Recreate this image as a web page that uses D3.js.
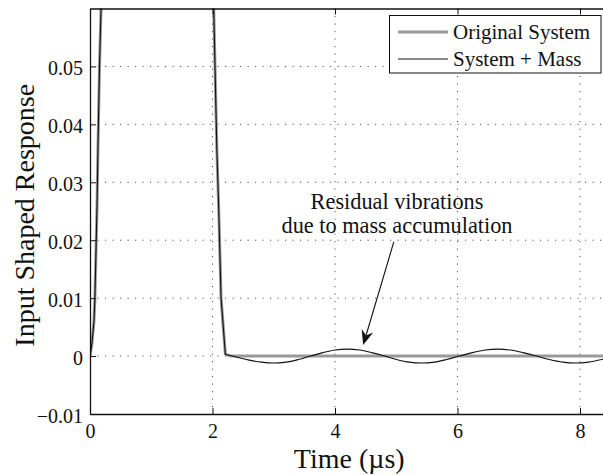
<!DOCTYPE html>
<html>
<head>
<meta charset="utf-8">
<script src="https://cdn.jsdelivr.net/npm/d3@7"></script>
<style>
  html, body { margin: 0; padding: 0; background: #fff; }
  svg { display: block; }
  text { font-family: "Liberation Serif", "Times New Roman", serif; fill: #111; }
</style>
</head>
<body>
<svg id="chart" width="603" height="475"></svg>
<script>
// Shared input-shaped pulse (both systems follow it up to t ≈ 2.21 µs)
const pulseTime  = [0, 0.03, 0.065, 0.08, 0.115, 0.13, 0.155, 0.18, 0.23, 1.97, 2.02, 2.07, 2.10, 2.14, 2.21];
const pulseValue = [0, 0.002, 0.006, 0.010, 0.026, 0.036, 0.050, 0.060, 0.085, 0.085, 0.060, 0.036, 0.026, 0.010, 0.0003];

// Original system: settles to zero after the pulse
const originalTailTime  = [2.21, 2.30, 8.40];
const originalTailValue = [0.0003, 0, 0];

// System + mass: residual vibration after the pulse
const massTailTime  = [2.21, 2.40, 2.60, 2.80, 3.00, 3.20, 3.40, 3.60, 3.80, 4.00, 4.20, 4.40, 4.60, 4.81,
                       5.01, 5.21, 5.42, 5.62, 5.82, 6.03, 6.24, 6.45, 6.65, 6.86, 7.07, 7.29, 7.50, 7.72, 7.93, 8.14, 8.40];
const massTailValue = [0.0003, -0.0002, -0.0007, -0.00105, -0.0012, -0.00105, -0.0006, 0, 0.0006, 0.00105, 0.0012, 0.00105, 0.0006, 0,
                       -0.0006, -0.00105, -0.0012, -0.00105, -0.0006, 0, 0.0006, 0.00105, 0.0012, 0.00105, 0.0006, 0, -0.0006, -0.00105, -0.0012, -0.00105, -0.0005];

const xTicks = [0, 2, 4, 6, 8];
const xTickLabels = ["0", "2", "4", "6", "8"];
const yTicks = [-0.01, 0, 0.01, 0.02, 0.03, 0.04, 0.05];
const yTickLabels = ["\u22120.01", "0", "0.01", "0.02", "0.03", "0.04", "0.05"];

const seriesNames = ["Original System", "System + Mass"];
const xLabel = "Time (\u00b5s)";
const yLabel = "Input Shaped Response";
const noteLines = ["Residual vibrations", "due to mass accumulation"];

const svg = d3.select("#chart");
const plot = { left: 90, top: 8.5, right: 604.5, bottom: 414 };
const serif = '"Liberation Serif", "Times New Roman", serif';

const x = d3.scaleLinear().domain([0, 8.4]).range([plot.left, plot.right]);
const y = d3.scaleLinear().domain([-0.01, 0.06]).range([plot.bottom, plot.top]);

svg.append("defs").append("clipPath").attr("id", "plotClip")
  .append("rect")
  .attr("x", plot.left).attr("y", plot.top)
  .attr("width", plot.right - plot.left).attr("height", plot.bottom - plot.top);

// Dotted grid
const grid = svg.append("g").attr("stroke", "#555").attr("stroke-width", 1)
  .attr("stroke-dasharray", "1.2,6.3").attr("fill", "none");
xTicks.filter(t => t > 0).forEach(t => {
  grid.append("line").attr("x1", x(t)).attr("x2", x(t)).attr("y1", plot.top).attr("y2", plot.bottom);
});
yTicks.filter(v => v > -0.01).forEach(v => {
  grid.append("line").attr("x1", plot.left).attr("x2", plot.right).attr("y1", y(v)).attr("y2", y(v));
});

// Data lines
const zip = (ts, vs) => ts.map((t, i) => [t, vs[i]]);
const original = zip(pulseTime, pulseValue).concat(zip(originalTailTime, originalTailValue).slice(1));
const massPulse = zip(pulseTime, pulseValue);
const massTail = zip(massTailTime, massTailValue);

const linear = d3.line().x(d => x(d[0])).y(d => y(d[1]));
const smooth = d3.line().x(d => x(d[0])).y(d => y(d[1])).curve(d3.curveCatmullRom.alpha(0.5));

const lines = svg.append("g").attr("clip-path", "url(#plotClip)").attr("fill", "none");
lines.append("path").attr("d", linear(original))
  .attr("stroke", "#999").attr("stroke-width", 3).attr("stroke-linejoin", "round");
lines.append("path").attr("d", linear(massPulse))
  .attr("stroke", "#111").attr("stroke-width", 1.1).attr("stroke-linejoin", "round");
lines.append("path").attr("d", smooth(massTail))
  .attr("stroke", "#111").attr("stroke-width", 1.1);

// Axes box with inward ticks
const axisG = svg.append("g");
const xAxisBottom = d3.axisBottom(x).tickValues(xTicks).tickSize(-6).tickSizeOuter(0)
  .tickFormat((d, i) => xTickLabels[i]).tickPadding(10);
const xAxisTop = d3.axisTop(x).tickValues(xTicks).tickSize(-6).tickSizeOuter(0).tickFormat("");
const yAxisLeft = d3.axisLeft(y).tickValues(yTicks).tickSize(-6).tickSizeOuter(0)
  .tickFormat((d, i) => yTickLabels[i]).tickPadding(7);

const gb = axisG.append("g").attr("transform", `translate(0,${plot.bottom})`).call(xAxisBottom);
const gt = axisG.append("g").attr("transform", `translate(0,${plot.top})`).call(xAxisTop);
const gl = axisG.append("g").attr("transform", `translate(${plot.left},0)`).call(yAxisLeft);
[gb, gt, gl].forEach(g => {
  g.attr("font-family", serif);
  g.select(".domain").attr("stroke", "#111").attr("stroke-width", 1.3);
  g.selectAll(".tick line").attr("stroke", "#111").attr("stroke-width", 1);
  g.selectAll(".tick text").attr("font-size", 20).attr("fill", "#111").style("font-family", serif);
});
gl.selectAll(".tick text").attr("dy", "0.4em");
// right border
axisG.append("line").attr("x1", plot.right).attr("x2", plot.right)
  .attr("y1", plot.top).attr("y2", plot.bottom).attr("stroke", "#111").attr("stroke-width", 1.3);

// Axis labels
svg.append("text").attr("x", (plot.left + plot.right) / 2 + 2).attr("y", 468)
  .attr("text-anchor", "middle").attr("font-size", 28).text(xLabel);
svg.append("text")
  .attr("transform", `translate(34,${(plot.top + plot.bottom) / 2 + 4}) rotate(-90)`)
  .attr("text-anchor", "middle").attr("font-size", 28).text(yLabel);

// Legend
const legend = svg.append("g");
legend.append("rect").attr("x", 389.5).attr("y", 15.5).attr("width", 211.5).attr("height", 57.5)
  .attr("fill", "#fff").attr("stroke", "#111").attr("stroke-width", 1);
const legendStyles = [{ stroke: "#999", width: 3 }, { stroke: "#111", width: 1.1 }];
seriesNames.forEach((name, i) => {
  const ly = 32 + i * 27;
  legend.append("line").attr("x1", 398).attr("x2", 448).attr("y1", ly).attr("y2", ly)
    .attr("stroke", legendStyles[i].stroke).attr("stroke-width", legendStyles[i].width);
  legend.append("text").attr("x", 453).attr("y", ly).attr("dy", "0.34em")
    .attr("font-size", 21).text(name);
});

// Annotation with arrow
const note = svg.append("g");
noteLines.forEach((line, i) => {
  note.append("text").attr("x", 397).attr("y", 209 + i * 24)
    .attr("text-anchor", "middle").attr("font-size", 22.3).text(line);
});
const tail = [x(4.96), y(0.0197)];
const tip = [x(4.46), y(0.0019)];
const ang = Math.atan2(tip[1] - tail[1], tip[0] - tail[0]);
const headLen = 15, headHalf = 6, notch = 10;
const back = (d, off) => [tip[0] - d * Math.cos(ang) - off * Math.sin(ang),
                          tip[1] - d * Math.sin(ang) + off * Math.cos(ang)];
note.append("line")
  .attr("x1", tail[0]).attr("y1", tail[1])
  .attr("x2", back(notch, 0)[0]).attr("y2", back(notch, 0)[1])
  .attr("stroke", "#111").attr("stroke-width", 1.1);
note.append("path")
  .attr("d", d3.line()([tip, back(headLen, headHalf), back(notch, 0), back(headLen, -headHalf)]) + "Z")
  .attr("fill", "#111");
</script>
</body>
</html>
